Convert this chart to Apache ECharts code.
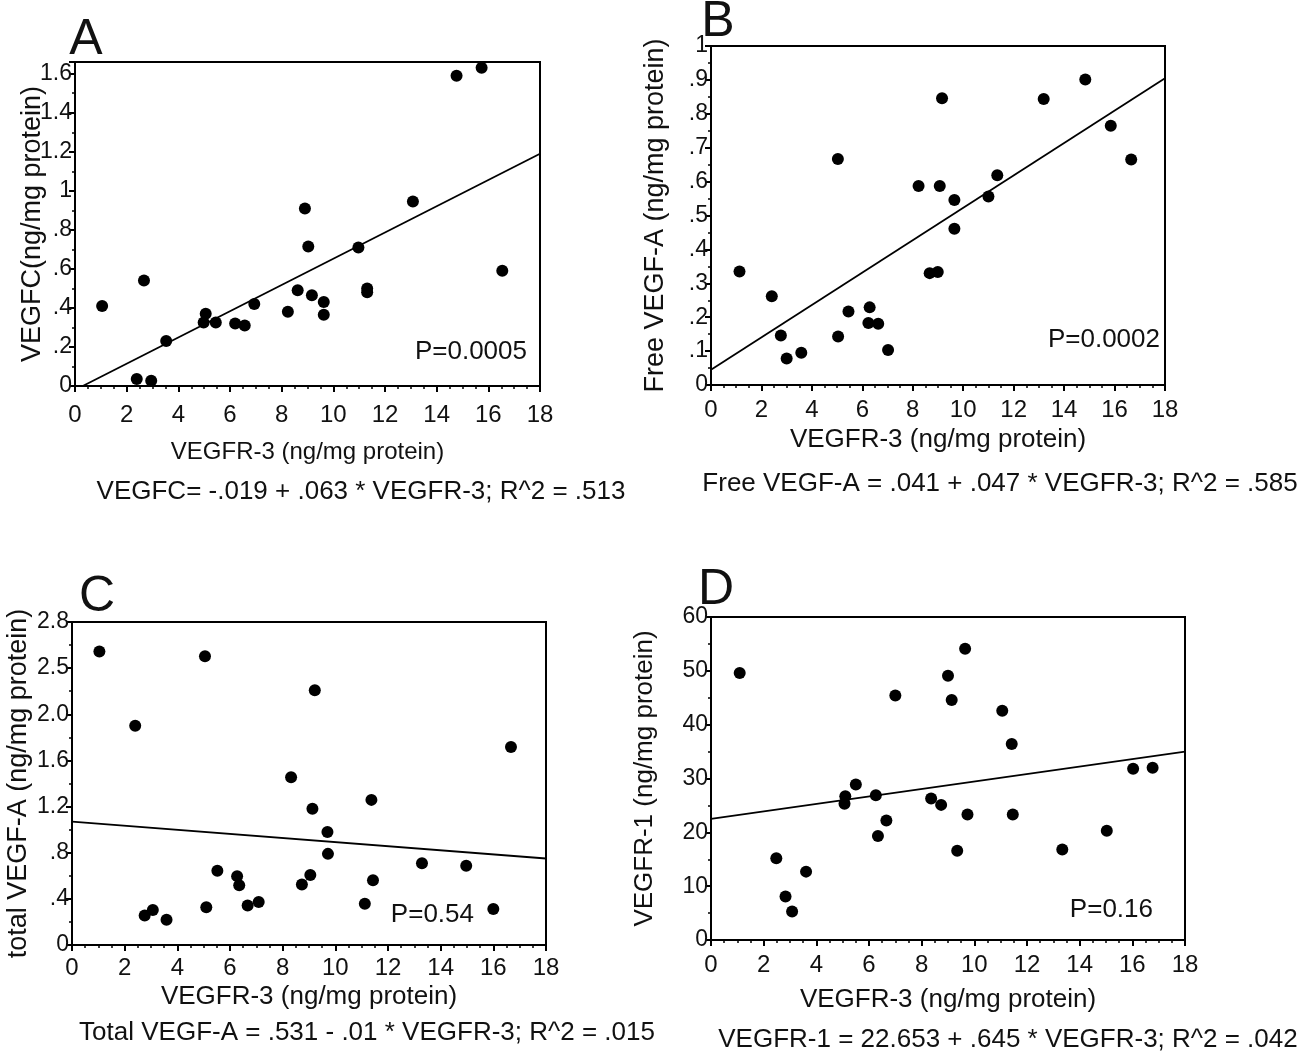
<!DOCTYPE html>
<html>
<head>
<meta charset="utf-8">
<script src="https://cdn.jsdelivr.net/npm/echarts@6/dist/echarts.min.js"></script>
<style>
  html, body { margin: 0; padding: 0; background: #fff; }
  #root { width: 1310px; height: 1058px; }
</style>
</head>
<body>
<div id="root"></div>
<script>
// A: VEGFC vs VEGFR-3
const aX = [1.05, 2.67, 2.39, 2.95, 3.53, 5.06, 4.98, 5.45, 6.2, 6.57, 6.94, 8.24, 8.62, 8.9, 9.03, 9.17, 9.63, 9.63, 10.97, 11.31, 11.31, 13.08, 14.77, 15.74, 16.54];
const aY = [0.41, 0.54, 0.036, 0.027, 0.23, 0.37, 0.325, 0.325, 0.32, 0.31, 0.42, 0.38, 0.49, 0.91, 0.715, 0.465, 0.43, 0.365, 0.71, 0.5, 0.48, 0.945, 1.59, 1.63, 0.59];
const aFitX = [0.3, 18];
const aFitY = [0, 1.19];

// B: Free VEGF-A vs VEGFR-3
const bX = [1.13, 2.41, 2.77, 3.0, 3.58, 5.03, 5.04, 5.45, 6.29, 6.24, 6.63, 7.02, 8.23, 8.67, 8.99, 9.07, 9.16, 9.65, 9.65, 11.0, 11.35, 13.19, 14.84, 15.85, 16.66];
const bY = [0.335, 0.262, 0.146, 0.078, 0.095, 0.667, 0.143, 0.217, 0.229, 0.183, 0.181, 0.103, 0.587, 0.33, 0.333, 0.587, 0.846, 0.546, 0.461, 0.556, 0.619, 0.844, 0.901, 0.765, 0.665];
const bFitX = [0, 18];
const bFitY = [0.045, 0.905];

// C: total VEGF-A vs VEGFR-3
const cX = [1.04, 2.4, 2.76, 3.07, 3.59, 5.05, 5.1, 5.52, 6.27, 6.35, 6.67, 7.09, 8.32, 8.73, 9.05, 9.13, 9.22, 9.7, 9.72, 11.12, 11.37, 11.43, 13.29, 14.97, 16.0, 16.67];
const cY = [2.545, 1.9, 0.255, 0.304, 0.219, 2.504, 0.328, 0.644, 0.597, 0.518, 0.342, 0.372, 1.454, 0.524, 0.606, 1.182, 2.209, 0.98, 0.79, 0.357, 1.258, 0.562, 0.708, 0.688, 0.313, 1.717];
const cFitX = [0, 18];
const cFitY = [1.07, 0.75];
const cTickLabels = ["0", ".4", ".8", "1.2", "1.6", "2.0", "2.5", "2.8"];

// D: VEGFR-1 vs VEGFR-3
const dX = [1.09, 2.48, 2.83, 3.08, 3.61, 5.1, 5.07, 5.5, 6.26, 6.34, 6.66, 7.0, 8.36, 8.74, 9.0, 9.14, 9.35, 9.65, 9.74, 11.06, 11.42, 11.46, 13.34, 15.03, 16.03, 16.77];
const dY = [49.6, 15.2, 8.1, 5.3, 12.7, 26.7, 25.3, 28.9, 26.9, 19.3, 22.2, 45.4, 26.3, 25.1, 49.1, 44.6, 16.6, 54.1, 23.3, 42.6, 36.4, 23.3, 16.8, 20.3, 31.8, 32.0];
const dFitX = [0, 18];
const dFitY = [22.5, 35];

const xName = "VEGFR-3 (ng/mg protein)";
const FONT = "'Liberation Sans', Arial, sans-serif";

const zip = (xs, ys) => xs.map((x, i) => [x, ys[i]]);
const noLead = (v) => {
  const s = String(Math.round(v * 100) / 100);
  return s.startsWith("0.") ? s.slice(1) : s;
};

function xAxis(gi, margin, gap, nameSize) {
  return {
    gridIndex: gi, type: "value", min: 0, max: 18, interval: 2,
    name: xName, nameLocation: "middle", nameGap: gap,
    nameTextStyle: { fontFamily: FONT, fontSize: nameSize, color: "#111" },
    axisLine: { show: true, onZero: false, lineStyle: { color: "#000", width: 2 } },
    axisTick: { show: true, length: 6, lineStyle: { color: "#000", width: 2 } },
    minorTick: { show: true, splitNumber: 4, length: 3, lineStyle: { color: "#000", width: 1.5 } },
    splitLine: { show: false },
    axisLabel: { margin: margin, fontFamily: FONT, fontSize: 24, color: "#111" },
  };
}

function yAxis(gi, name, max, interval, gap, nameSize, fmt, hideMax) {
  return {
    gridIndex: gi, type: "value", min: 0, max: max, interval: interval,
    name: name, nameLocation: "middle", nameGap: gap, nameRotate: 90,
    nameMoveOverlap: false,
    nameTextStyle: { fontFamily: FONT, fontSize: nameSize, color: "#111" },
    axisLine: { show: true, onZero: false, lineStyle: { color: "#000", width: 2 } },
    axisTick: { show: true, length: 6, lineStyle: { color: "#000", width: 2 } },
    minorTick: { show: true, splitNumber: 2, length: 3, lineStyle: { color: "#000", width: 1.5 } },
    splitLine: { show: false },
    axisLabel: { margin: 3, fontFamily: FONT, fontSize: 23, color: "#111", formatter: fmt, showMaxLabel: !hideMax },
  };
}

function dots(i, xs, ys) {
  return {
    type: "scatter", xAxisIndex: i, yAxisIndex: i, data: zip(xs, ys),
    symbolSize: 12, itemStyle: { color: "#000", opacity: 1 }, z: 3,
  };
}

function fit(i, xs, ys) {
  return {
    type: "line", xAxisIndex: i, yAxisIndex: i, data: zip(xs, ys),
    showSymbol: false, silent: true, lineStyle: { color: "#000", width: 1.8 }, z: 2,
  };
}

function txt(x, y, s, size, align) {
  return {
    type: "text", x: x, y: y,
    style: { text: s, font: size + "px " + FONT, fill: "#111", align: align || "center", verticalAlign: "middle" },
  };
}

const gridStyle = { show: true, borderColor: "#000", borderWidth: 2, backgroundColor: "transparent" };

const option = {
  animation: false,
  backgroundColor: "#fff",
  grid: [
    Object.assign({ left: 75, top: 62, width: 465, height: 324 }, gridStyle),
    Object.assign({ left: 711, top: 46, width: 454, height: 339 }, gridStyle),
    Object.assign({ left: 72, top: 622, width: 474, height: 323 }, gridStyle),
    Object.assign({ left: 711, top: 617, width: 474, height: 323 }, gridStyle),
  ],
  xAxis: [xAxis(0, 17, 54, 24), xAxis(1, 13, 42, 26), xAxis(2, 11, 39, 26), xAxis(3, 13, 47, 26)],
  yAxis: [
    yAxis(0, "VEGFC(ng/mg protein)", 1.66, 0.2, 29, 27, noLead, true),
    yAxis(1, "Free VEGF-A (ng/mg protein)", 1, 0.1, 42, 27, noLead),
    yAxis(2, "total VEGF-A (ng/mg protein)", 2.8, 0.4, 40, 27, (v) => cTickLabels[Math.round(v / 0.4)] || ""),
    yAxis(3, "VEGFR-1 (ng/mg protein)", 60, 10, 53, 26, (v) => String(v)),
  ],
  series: [
    fit(0, aFitX, aFitY), dots(0, aX, aY),
    fit(1, bFitX, bFitY), dots(1, bX, bY),
    fit(2, cFitX, cFitY), dots(2, cX, cY),
    fit(3, dFitX, dFitY), dots(3, dX, dY),
  ],
  graphic: [
    txt(86, 40, "A", 50), txt(718, 22, "B", 50), txt(97, 597, "C", 50), txt(716, 590, "D", 50),
    txt(527, 352, "P=0.0005", 26, "right"),
    txt(1160, 340, "P=0.0002", 26, "right"),
    txt(474, 915, "P=0.54", 26, "right"),
    txt(1153, 910, "P=0.16", 26, "right"),
    txt(361, 492, "VEGFC= -.019 + .063 * VEGFR-3; R^2 = .513", 26),
    txt(1000, 484, "Free VEGF-A = .041 + .047 * VEGFR-3; R^2 = .585", 26),
    txt(367, 1033, "Total VEGF-A = .531 - .01 * VEGFR-3; R^2 = .015", 26),
    txt(1008, 1040, "VEGFR-1 = 22.653 + .645 * VEGFR-3; R^2 = .042", 26),
  ],
};

const chart = echarts.init(document.getElementById("root"), null, { renderer: "canvas" });
chart.setOption(option);
</script>
</body>
</html>
